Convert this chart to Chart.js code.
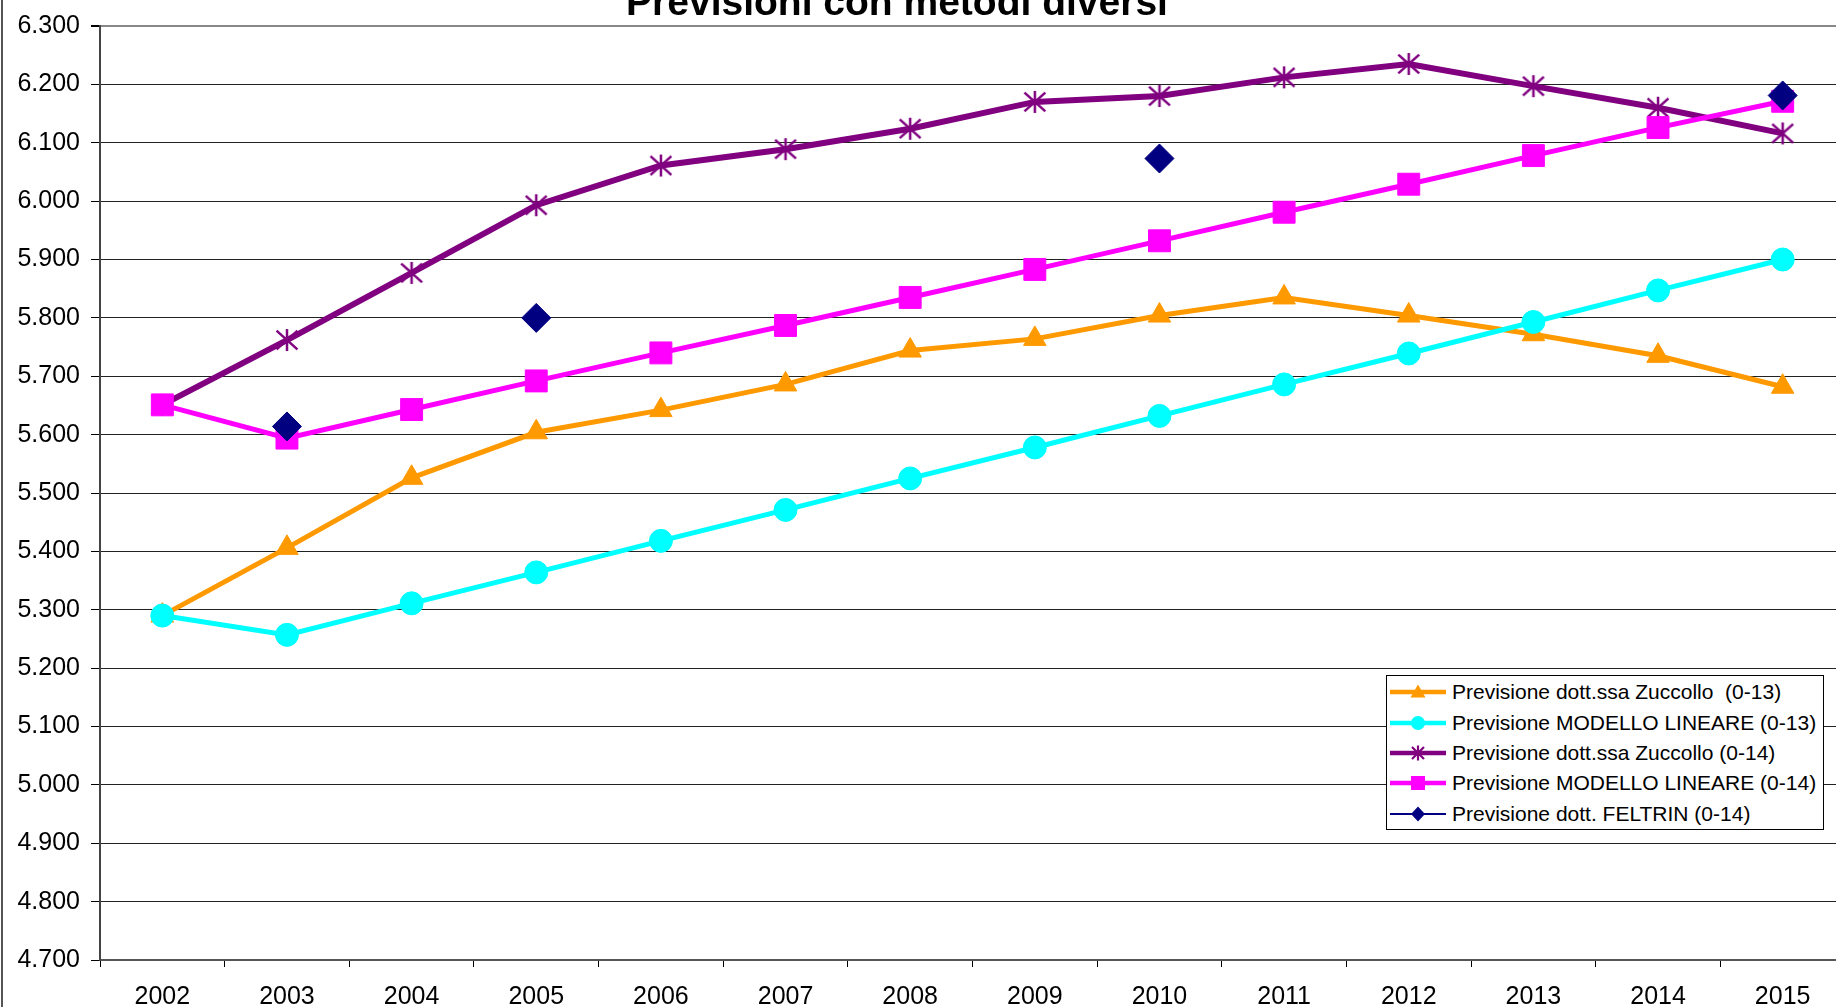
<!DOCTYPE html>
<html>
<head>
<meta charset="utf-8">
<title>Previsioni con metodi diversi</title>
<script src="https://cdn.jsdelivr.net/npm/chart.js@4.4.0/dist/chart.umd.min.js"></script>
<style>
  html, body { margin: 0; padding: 0; background: #fff; overflow: hidden; }
  #contenitore { position: relative; width: 1836px; height: 1007px; overflow: hidden; }
  #grafico { position: absolute; left: 0; top: 0; }
  #legenda {
    position: absolute; left: 1386px; top: 675px; width: 438px; height: 155px;
    box-sizing: border-box; border: 1px solid #000; background: #fff;
    font-family: "Liberation Sans", Arial, sans-serif; font-size: 21px; color: #000;
    padding-top: 1px;
  }
  .riga { height: 30.4px; display: flex; align-items: center; white-space: pre; }
  .riga svg { margin-left: 3px; margin-right: 6px; flex: none; }
</style>
</head>
<body>
<div id="contenitore">
  <canvas id="grafico" width="1850" height="1007"></canvas>
  <div id="legenda"></div>
</div>
<script>
// Dati
const titolo = 'Previsioni con metodi diversi';
const anni = ['2002', '2003', '2004', '2005', '2006', '2007', '2008', '2009', '2010', '2011', '2012', '2013', '2014', '2015'];

const zuccollo013 = [5290, 5406, 5526, 5604, 5642, 5686, 5744, 5764, 5804, 5835, 5804, 5772, 5735, 5682];
const lineare013  = [5290, 5257, 5311, 5364, 5418, 5471, 5525, 5578, 5632, 5686, 5739, 5793, 5847, 5900];
const zuccollo014 = [5651, 5762, 5877, 5993, 6061, 6089, 6124, 6170, 6180, 6212, 6235, 6197, 6160, 6116];
const lineare014  = [5651, 5594, 5643, 5692, 5740, 5787, 5835, 5883, 5932, 5981, 6029, 6078, 6126, 6171];
const feltrin014  = [null, 5614, null, 5800, null, null, null, null, 6073, null, null, null, null, 6181];

const nomiSerie = [
    'Previsione dott.ssa Zuccollo  (0-13)',
    'Previsione MODELLO LINEARE (0-13)',
    'Previsione dott.ssa Zuccollo (0-14)',
    'Previsione MODELLO LINEARE (0-14)',
    'Previsione dott. FELTRIN (0-14)'
];
const coloriSerie = ['#FF9900', '#00FFFF', '#800080', '#FF00FF', '#000080'];
const simboliSerie = ['triangolo', 'cerchio', 'asterisco', 'quadrato', 'rombo'];

const minimoY = 4700;
const massimoY = 6300;
const passoY = 100;

// Formatta 6300 come "6.300"
function formatoMigliaia(valore) {
    const s = String(Math.round(valore));
    return s.slice(0, -3) + '.' + s.slice(-3);
}

// Asterisco stile Excel: linea verticale + X
function creaAsterisco(colore, lato, spessore) {
    const c = document.createElement('canvas');
    c.width = lato;
    c.height = lato;
    const g = c.getContext('2d');
    const m = lato / 2, r = lato / 2 - 1;
    g.strokeStyle = colore;
    g.lineWidth = spessore;
    g.beginPath();
    g.moveTo(m, m - r); g.lineTo(m, m + r);
    g.moveTo(m - r * 0.95, m - r * 0.85); g.lineTo(m + r * 0.95, m + r * 0.85);
    g.moveTo(m + r * 0.95, m - r * 0.85); g.lineTo(m - r * 0.95, m + r * 0.85);
    g.stroke();
    return c;
}

// Titolo e bordo sinistro dell'area del grafico
const pluginCornice = {
    id: 'cornice',
    afterDraw(chart) {
        const ctx = chart.ctx;
        ctx.save();
        ctx.fillStyle = '#555';
        ctx.fillRect(1, 0, 2, chart.height);
        ctx.font = 'bold 39px "Liberation Sans", Arial, sans-serif';
        ctx.fillStyle = '#000';
        ctx.textAlign = 'center';
        ctx.textBaseline = 'alphabetic';
        ctx.fillText(titolo, 897, 15);
        ctx.restore();
    }
};

const serie = [zuccollo013, lineare013, zuccollo014, lineare014, feltrin014];
const stiliPunto = ['triangle', 'circle', creaAsterisco(coloriSerie[2], 24, 2.5), 'rect', 'rectRot'];
const raggiPunto = [13, 11.5, 12, 15.5, 14.5];
const spessoriLinea = [5, 5, 6, 5, 2];

const datasets = serie.map((dati, i) => ({
    label: nomiSerie[i],
    data: dati,
    borderColor: coloriSerie[i],
    backgroundColor: coloriSerie[i],
    borderWidth: spessoriLinea[i],
    pointStyle: stiliPunto[i],
    pointRadius: raggiPunto[i],
    pointBorderWidth: 1,
    pointBackgroundColor: coloriSerie[i],
    pointBorderColor: coloriSerie[i],
    tension: 0,
    spanGaps: false,
    order: serie.length - i
}));

const fontY = { family: '"Liberation Sans", Arial, sans-serif', size: 25 };
const fontX = { family: '"Liberation Sans", Arial, sans-serif', size: 25 };

new Chart(document.getElementById('grafico').getContext('2d'), {
    type: 'line',
    data: { labels: anni, datasets: datasets },
    options: {
        responsive: false,
        animation: false,
        layout: { autoPadding: false, padding: { left: 0, right: 5, top: 22, bottom: 0 } },
        plugins: {
            legend: { display: false },
            tooltip: { enabled: false },
            title: { display: false }
        },
        scales: {
            x: {
                offset: true,
                grid: { offset: true, drawOnChartArea: false, drawTicks: true, tickLength: 7, color: '#000' },
                border: { display: true, color: '#555', width: 2 },
                ticks: { color: '#000', font: fontX, padding: 15, maxRotation: 0, autoSkip: false },
                afterFit(scala) { scala.height = 47; }
            },
            y: {
                min: minimoY,
                max: massimoY,
                grid: {
                    color: (c) => (c.tick && (c.tick.value === massimoY || c.tick.value === minimoY)) ? '#888' : '#222',
                    lineWidth: (c) => (c.tick && c.tick.value === massimoY) ? 2 : 1,
                    tickColor: '#000',
                    tickLength: 9
                },
                border: { display: true, color: '#444', width: 2 },
                ticks: {
                    stepSize: passoY,
                    color: '#000',
                    font: fontY,
                    padding: 11,
                    callback: (v) => formatoMigliaia(v)
                },
                afterFit(scala) { scala.width = 100; }
            }
        }
    },
    plugins: [pluginCornice]
});

// Legenda HTML
function simboloSvg(tipo, colore) {
    switch (tipo) {
        case 'triangolo': return `<polygon points="28,7.5 35.5,20.5 20.5,20.5" fill="${colore}"/>`;
        case 'cerchio': return `<circle cx="28" cy="15" r="7" fill="${colore}"/>`;
        case 'asterisco': return `<path d="M28 7.5 V22.5 M22 9 L34 21 M34 9 L22 21" stroke="${colore}" stroke-width="2.2" fill="none"/>`;
        case 'quadrato': return `<rect x="21" y="8" width="14" height="14" fill="${colore}"/>`;
        case 'rombo': return `<polygon points="28,7.5 35,15 28,22.5 21,15" fill="${colore}"/>`;
    }
    return '';
}

const legenda = document.getElementById('legenda');
nomiSerie.forEach((nome, i) => {
    const riga = document.createElement('div');
    riga.className = 'riga';
    const spessore = i === 4 ? 2 : 4.5;
    riga.innerHTML = `<svg width="56" height="30" viewBox="0 0 56 30">
        <line x1="0" y1="15" x2="56" y2="15" stroke="${coloriSerie[i]}" stroke-width="${spessore}"/>
        ${simboloSvg(simboliSerie[i], coloriSerie[i])}
    </svg><span>${nome}</span>`;
    legenda.appendChild(riga);
});
</script>
</body>
</html>
